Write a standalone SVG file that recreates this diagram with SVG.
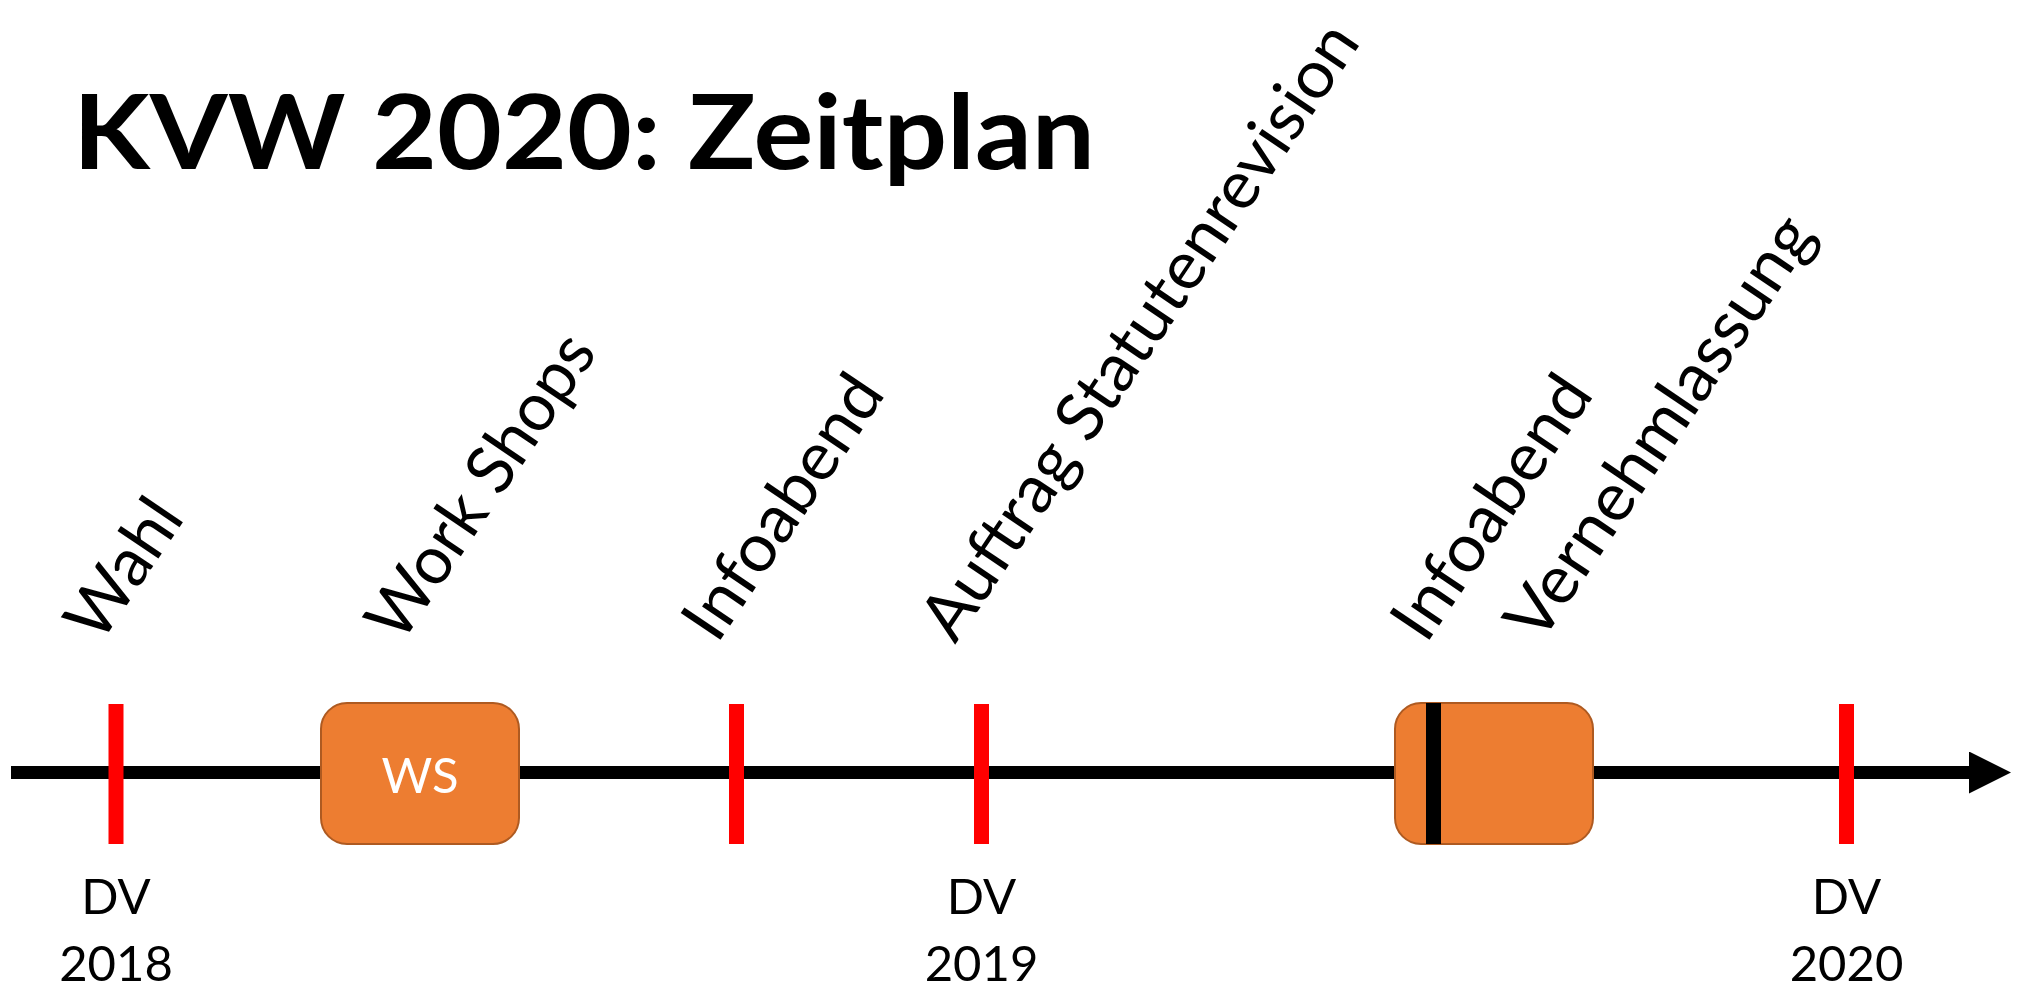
<svg xmlns="http://www.w3.org/2000/svg" width="2018" height="988" viewBox="0 0 2018 988">
<defs>
<marker id="arrow" markerUnits="userSpaceOnUse" markerWidth="44" markerHeight="44" refX="0" refY="21" orient="auto">
<path d="M0,0 L42,21 L0,42 z" fill="#000"/>
</marker>
<style>
.title{font-family:Lato,"Open Sans",sans-serif;font-weight:bold;font-size:104px;fill:#000}
.lbl{font-family:Lato,"Open Sans",sans-serif;font-size:67px;fill:#000}
.dv{font-family:Lato,"Open Sans",sans-serif;font-size:49px;fill:#000;text-anchor:middle}
.tick{fill:#FF0000}
.box{fill:#ED7D31;stroke:#AE5A21;stroke-width:2}
.ws{font-family:Lato,"Open Sans",sans-serif;font-size:49px;fill:#FFFFFF;text-anchor:middle}
</style>
</defs>
<rect width="2018" height="988" fill="#FFFFFF"/>
<text class="title" x="73" y="169" textLength="1022" lengthAdjust="spacingAndGlyphs">KVW 2020: Zeitplan</text>
<g id="connectors">
<line x1="11" y1="772.5" x2="1969" y2="772.5" stroke="#000" stroke-width="13" marker-end="url(#arrow)"/>
</g>
<g id="node-wahl">
<rect class="tick" x="108.5" y="704" width="15" height="140"/>
<text class="lbl" transform="translate(100,645) rotate(-56)" textLength="153" lengthAdjust="spacingAndGlyphs">Wahl</text>
<text class="dv" x="116" y="914">DV</text>
<text class="dv" x="116" y="981">2018</text>
</g>
<g id="node-ws">
<rect class="box" x="321" y="703" width="198" height="141" rx="26"/>
<text class="ws" x="420" y="793">WS</text>
<text class="lbl" transform="translate(401,645) rotate(-56)" textLength="353" lengthAdjust="spacingAndGlyphs">Work Shops</text>
</g>
<g id="node-infoabend1">
<rect class="tick" x="729" y="704" width="15" height="140"/>
<text class="lbl" transform="translate(717,645) rotate(-56)" textLength="303" lengthAdjust="spacingAndGlyphs">Infoabend</text>
</g>
<g id="node-auftrag">
<rect class="tick" x="974" y="704" width="15" height="140"/>
<text class="lbl" transform="translate(955,645) rotate(-56)" textLength="727" lengthAdjust="spacingAndGlyphs">Auftrag Statutenrevision</text>
<text class="dv" x="981.5" y="914">DV</text>
<text class="dv" x="981.5" y="981">2019</text>
</g>
<g id="node-vernehmlassung">
<rect class="box" x="1395" y="703" width="198" height="141" rx="26"/>
<rect x="1426" y="703" width="15" height="141" fill="#000"/>
<text class="lbl" transform="translate(1426,645) rotate(-56)" textLength="302" lengthAdjust="spacingAndGlyphs">Infoabend</text>
<text class="lbl" transform="translate(1540,645) rotate(-56)" textLength="495" lengthAdjust="spacingAndGlyphs">Vernehmlassung</text>
</g>
<g id="node-dv2020">
<rect class="tick" x="1839" y="704" width="15" height="140"/>
<text class="dv" x="1846.5" y="914">DV</text>
<text class="dv" x="1846.5" y="981">2020</text>
</g>
</svg>
